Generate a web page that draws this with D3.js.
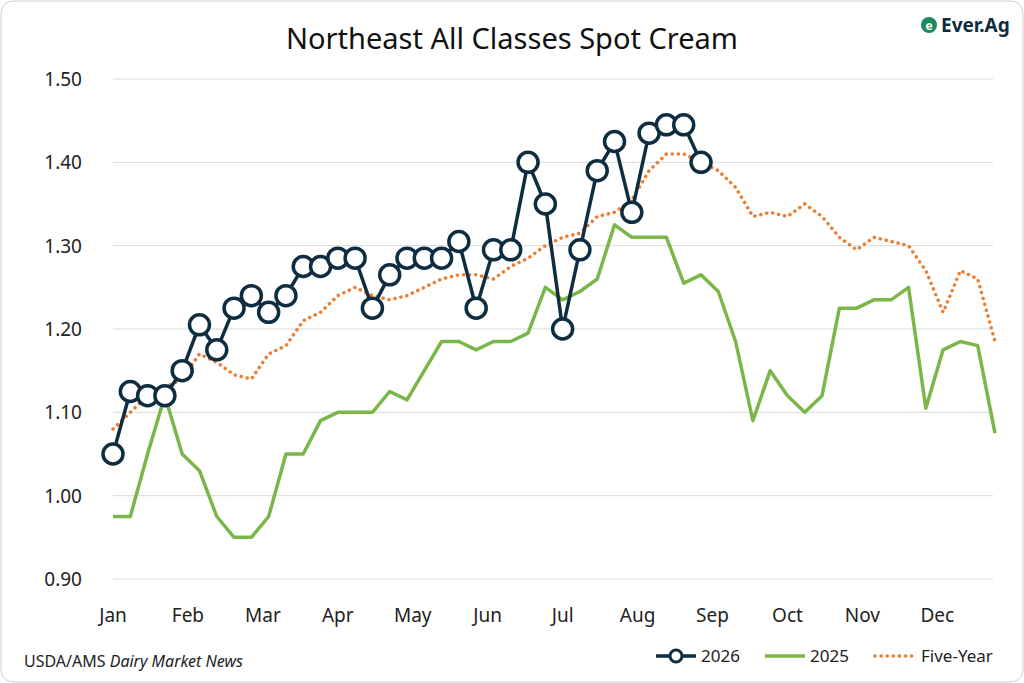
<!DOCTYPE html>
<html lang="en">
  <head>
    <meta charset="UTF-8" />
    <title>Northeast All Classes Spot Cream</title>
    <script src="https://d3js.org/d3.v7.min.js"></script>
    <style>
      body { margin: 0; background: #fff; font-family: "Noto Sans", Arial, sans-serif; }
    </style>
  </head>
  <body>
    <svg id="chart" width="1024" height="683"></svg>
    <script>
      const months = ["Jan","Feb","Mar","Apr","May","Jun","Jul","Aug","Sep","Oct","Nov","Dec"];
      const yTicks = [0.9, 1.0, 1.1, 1.2, 1.3, 1.4, 1.5];
      const s2026 = [1.05,1.125,1.12,1.12,1.15,1.205,1.175,1.225,1.24,1.22,1.24,1.275,1.275,1.285,1.285,1.225,1.265,1.285,1.285,1.285,1.305,1.225,1.295,1.295,1.40,1.35,1.20,1.295,1.39,1.425,1.34,1.435,1.445,1.445,1.40];
      const s2025 = [0.975,0.975,1.05,1.12,1.05,1.03,0.975,0.95,0.95,0.975,1.05,1.05,1.09,1.10,1.10,1.10,1.125,1.115,1.15,1.185,1.185,1.175,1.185,1.185,1.195,1.25,1.235,1.245,1.26,1.325,1.31,1.31,1.31,1.255,1.265,1.245,1.185,1.09,1.15,1.12,1.10,1.12,1.225,1.225,1.235,1.235,1.25,1.105,1.175,1.185,1.18,1.075];
      const fiveYear = [1.08,1.10,1.12,1.13,1.14,1.17,1.16,1.145,1.14,1.17,1.18,1.21,1.22,1.24,1.25,1.24,1.235,1.24,1.25,1.26,1.265,1.265,1.26,1.275,1.285,1.30,1.31,1.315,1.335,1.34,1.355,1.39,1.41,1.41,1.40,1.39,1.37,1.335,1.34,1.335,1.35,1.335,1.31,1.295,1.31,1.305,1.30,1.27,1.22,1.27,1.26,1.185];

      const svg = d3.select("#chart");
      svg.append("rect").attr("x", 1).attr("y", 1).attr("width", 1022).attr("height", 681)
        .attr("rx", 12).attr("fill", "#fff").attr("stroke", "#d0d0d0");

      // weekly x scale: week 0 = first week of Jan
      const x = d3.scaleLinear().domain([0, 51]).range([113, 995]);
      const weeksPerMonth = 52 / 12;
      const y = d3.scaleLinear().domain([0.9, 1.5]).range([579, 79]);

      svg.append("g").selectAll("line").data(yTicks).join("line")
        .attr("x1", 113).attr("x2", 993)
        .attr("y1", d => y(d)).attr("y2", d => y(d))
        .attr("stroke", "#d9d9d9").attr("stroke-width", 1);

      svg.append("g").selectAll("text").data(yTicks).join("text")
        .attr("x", 82).attr("y", d => y(d) + 7).attr("text-anchor", "end")
        .attr("font-size", 19).attr("fill", "#222").text(d => d.toFixed(2));

      svg.append("g").selectAll("text").data(months).join("text")
        .attr("x", (d, i) => x(i * weeksPerMonth)).attr("y", 622).attr("text-anchor", "middle")
        .attr("font-size", 19).attr("fill", "#222").text(d => d);

      const line = d3.line().x((d, i) => x(i)).y(d => y(d));

      svg.append("path").datum(fiveYear).attr("d", line).attr("fill", "none")
        .attr("stroke", "#ed7d31").attr("stroke-width", 3.5)
        .attr("stroke-dasharray", "0.1 6").attr("stroke-linecap", "round");

      svg.append("path").datum(s2025).attr("d", line).attr("fill", "none")
        .attr("stroke", "#7ab648").attr("stroke-width", 3.5).attr("stroke-linejoin", "round");

      svg.append("path").datum(s2026).attr("d", line).attr("fill", "none")
        .attr("stroke", "#0f2d40").attr("stroke-width", 3.5);
      svg.append("g").selectAll("circle").data(s2026).join("circle")
        .attr("cx", (d, i) => x(i)).attr("cy", d => y(d)).attr("r", 10)
        .attr("fill", "#fff").attr("stroke", "#0f2d40").attr("stroke-width", 3.5);

      svg.append("text").attr("x", 512).attr("y", 49).attr("text-anchor", "middle")
        .attr("font-size", 29).attr("fill", "#111").text("Northeast All Classes Spot Cream");

      // logo
      const logo = svg.append("g");
      logo.append("circle").attr("cx", 929).attr("cy", 25).attr("r", 8).attr("fill", "#1f8a5b");
      logo.append("text").attr("x", 929).attr("y", 29.5).attr("text-anchor", "middle")
        .attr("font-size", 12).attr("font-weight", "bold").attr("fill", "#fff").text("e");
      logo.append("text").attr("x", 941).attr("y", 32).attr("font-size", 19)
        .attr("font-weight", "bold").attr("fill", "#0f2d40").text("Ever.Ag");

      const src = svg.append("text").attr("x", 24).attr("y", 667).attr("font-size", 16).attr("fill", "#222");
      src.append("tspan").text("USDA/AMS ");
      src.append("tspan").attr("font-style", "italic").text("Dairy Market News");

      // legend
      const lg = svg.append("g");
      lg.append("line").attr("x1", 656).attr("x2", 696).attr("y1", 656).attr("y2", 656)
        .attr("stroke", "#0f2d40").attr("stroke-width", 3.5);
      lg.append("circle").attr("cx", 676).attr("cy", 656).attr("r", 6)
        .attr("fill", "#fff").attr("stroke", "#0f2d40").attr("stroke-width", 3);
      lg.append("text").attr("x", 701).attr("y", 662).attr("font-size", 17).attr("fill", "#222").text("2026");
      lg.append("line").attr("x1", 765).attr("x2", 805).attr("y1", 656).attr("y2", 656)
        .attr("stroke", "#7ab648").attr("stroke-width", 3.5);
      lg.append("text").attr("x", 810).attr("y", 662).attr("font-size", 17).attr("fill", "#222").text("2025");
      lg.append("line").attr("x1", 875).attr("x2", 915).attr("y1", 656).attr("y2", 656)
        .attr("stroke", "#ed7d31").attr("stroke-width", 3.5)
        .attr("stroke-dasharray", "0.1 6").attr("stroke-linecap", "round");
      lg.append("text").attr("x", 921).attr("y", 662).attr("font-size", 17).attr("fill", "#222").text("Five-Year");
    </script>
  </body>
</html>
